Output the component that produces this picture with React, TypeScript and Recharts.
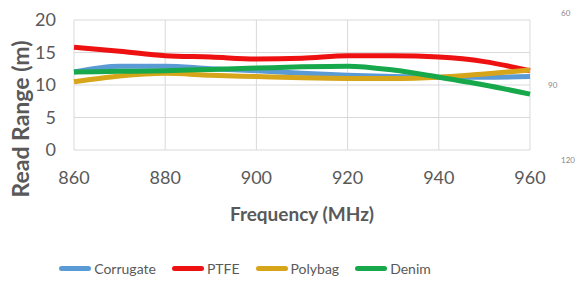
import { LineChart, Line, XAxis, YAxis, CartesianGrid, Legend } from 'recharts';

const frequency = [860, 870, 880, 890, 900, 910, 920, 930, 940, 950, 960];
const corrugate = [12.0, 12.9, 12.9, 12.5, 12.2, 11.8, 11.5, 11.3, 11.2, 11.2, 11.3];
const ptfe = [15.8, 15.2, 14.5, 14.3, 14.0, 14.1, 14.5, 14.5, 14.3, 13.6, 12.2];
const polybag = [10.5, 11.4, 11.8, 11.5, 11.3, 11.1, 11.0, 11.0, 11.2, 11.7, 12.3];
const denim = [12.0, 12.1, 12.2, 12.4, 12.6, 12.8, 12.9, 12.3, 11.2, 10.0, 8.6];
const xTicks = [860, 880, 900, 920, 940, 960];
const yTicks = [0, 5, 10, 15, 20];
const polarLabels = ['60', '90', '120'];

const series = [
    { key: 'corrugate', name: 'Corrugate', color: '#5B9BD5' },
    { key: 'ptfe', name: 'PTFE', color: '#EE1111' },
    { key: 'polybag', name: 'Polybag', color: '#D6A51A' },
    { key: 'denim', name: 'Denim', color: '#17A84B' },
];

const data = frequency.map((f, i) => ({
    f,
    corrugate: corrugate[i],
    ptfe: ptfe[i],
    polybag: polybag[i],
    denim: denim[i],
}));

const font = 'Lato, "Open Sans", sans-serif';
const grey = '#595959';

const LegendContent = () => (
    <div style={{ display: 'flex', justifyContent: 'center', paddingTop: 10, paddingRight: 24, fontFamily: font, fontSize: 14, color: grey }}>
        {series.map((s) => (
            <div key={s.key} style={{ display: 'flex', alignItems: 'center', marginRight: 16 }}>
                <span style={{ display: 'inline-block', width: 32, height: 5, borderRadius: 3, background: s.color, marginRight: 3 }} />
                {s.name}
            </div>
        ))}
    </div>
);

// rotated y-axis title, placed by hand like the original
const YTitle = () => (
    <text
        x={20}
        y={119}
        transform="rotate(-90, 20, 119)"
        textAnchor="middle"
        dominantBaseline="central"
        fontSize={23}
        fontWeight={700}
        fill={grey}
        fontFamily={font}
    >
        Read Range (m)
    </text>
);

export default function App() {
    return (
        <div style={{ position: 'absolute', left: 0, top: 0, width: 581, height: 283, background: '#fff' }}>
            <LineChart width={581} height={283} data={data} margin={{ top: 20, right: 51, bottom: 0, left: 0 }}>
                <CartesianGrid stroke="#d9d9d9" />
                <XAxis
                    dataKey="f"
                    type="number"
                    domain={[860, 960]}
                    ticks={xTicks}
                    height={100}
                    axisLine={false}
                    tickLine={false}
                    tickSize={0}
                    tickMargin={21}
                    tick={{ fontSize: 18, fill: grey, fontFamily: font }}
                    label={{ value: 'Frequency (MHz)', position: 'insideBottom', offset: 29, fontSize: 19, fontWeight: 700, fill: grey, fontFamily: font }}
                />
                <YAxis
                    domain={[0, 20]}
                    ticks={yTicks}
                    width={74}
                    axisLine={false}
                    tickLine={false}
                    tickSize={0}
                    tickMargin={18}
                    tick={{ fontSize: 18, fill: grey, fontFamily: font }}
                    label={<YTitle />}
                />
                <Legend verticalAlign="bottom" height={33} content={<LegendContent />} />
                {series.map((s) => (
                    <Line
                        key={s.key}
                        type="monotone"
                        dataKey={s.key}
                        name={s.name}
                        stroke={s.color}
                        strokeWidth={5}
                        dot={false}
                        isAnimationActive={false}
                    />
                ))}
            </LineChart>
            {polarLabels.map((t, i) => (
                <span
                    key={t}
                    style={{ position: 'absolute', left: i === 1 ? 548 : 561, top: [8, 80, 155][i], fontSize: 8, color: '#888', fontFamily: font }}
                >
                    {t}
                </span>
            ))}
        </div>
    );
}
